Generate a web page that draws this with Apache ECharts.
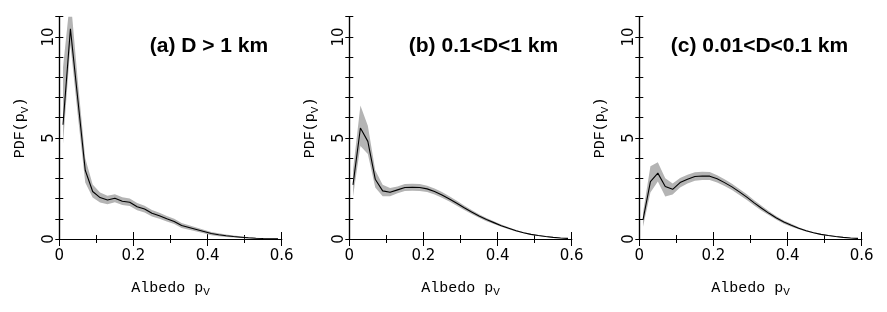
<!DOCTYPE html>
<html>
<head>
<meta charset="utf-8">
<script src="https://cdn.jsdelivr.net/npm/echarts@6/dist/echarts.min.js"></script>
<style>html,body{margin:0;padding:0;background:#fff}#c{width:887px;height:312px}</style>
</head>
<body>
<div id="c"></div>
<script>
const xs = [0.01,0.03,0.05,0.07,0.09,0.11,0.13,0.15,0.17,0.19,0.21,0.23,0.25,0.27,0.29,0.31,0.33,0.35,0.37,0.39,0.41,0.43,0.45,0.47,0.49,0.51,0.53,0.55,0.57,0.59];

const titles = ['(a) D > 1 km', '(b) 0.1<D<1 km', '(c) 0.01<D<0.1 km'];
const xTickLabels = ['0', '0.2', '0.4', '0.6'];
const yTickLabels = ['0', '5', '10'];

const meanA = [5.65,10.4,6.9,3.4,2.35,2.05,1.93,2.02,1.87,1.82,1.6,1.48,1.27,1.15,1.0,0.87,0.67,0.57,0.47,0.37,0.27,0.21,0.16,0.12,0.09,0.06,0.04,0.025,0.015,0.01];
const lowA  = [4.7,9.6,6.1,2.8,2.05,1.8,1.72,1.82,1.68,1.63,1.42,1.31,1.11,1.0,0.86,0.74,0.55,0.46,0.37,0.28,0.19,0.14,0.1,0.07,0.05,0.03,0.02,0.01,0.005,0.0];
const upA   = [8.5,12.0,7.8,4.0,2.7,2.3,2.14,2.22,2.06,2.01,1.78,1.65,1.43,1.3,1.14,1.0,0.79,0.68,0.57,0.46,0.35,0.28,0.22,0.17,0.13,0.09,0.06,0.04,0.025,0.02];

const meanB = [2.68,5.49,4.83,2.96,2.38,2.31,2.43,2.55,2.56,2.55,2.48,2.35,2.18,1.98,1.77,1.55,1.34,1.14,0.96,0.81,0.66,0.53,0.41,0.31,0.23,0.17,0.12,0.08,0.05,0.03];
const lowB  = [2.1,4.6,4.2,2.55,2.12,2.12,2.26,2.38,2.39,2.38,2.32,2.2,2.04,1.85,1.65,1.44,1.24,1.05,0.88,0.74,0.6,0.48,0.37,0.28,0.2,0.145,0.1,0.065,0.035,0.015];
const upB   = [3.4,6.6,5.6,3.4,2.68,2.52,2.6,2.72,2.73,2.72,2.64,2.5,2.32,2.11,1.89,1.66,1.44,1.23,1.04,0.88,0.72,0.58,0.45,0.34,0.26,0.195,0.14,0.095,0.065,0.045];

const meanC = [0.95,2.84,3.26,2.6,2.46,2.79,2.96,3.09,3.12,3.11,2.98,2.79,2.58,2.33,2.07,1.79,1.52,1.27,1.04,0.84,0.68,0.53,0.41,0.31,0.23,0.17,0.12,0.08,0.05,0.03];
const lowC  = [0.6,2.3,2.85,2.1,2.2,2.55,2.75,2.88,2.92,2.92,2.8,2.62,2.42,2.18,1.93,1.66,1.4,1.17,0.95,0.76,0.61,0.48,0.37,0.28,0.2,0.145,0.1,0.065,0.035,0.015];
const upC   = [1.3,3.6,3.8,3.0,2.75,3.02,3.18,3.3,3.33,3.31,3.16,2.96,2.74,2.48,2.21,1.92,1.64,1.37,1.13,0.92,0.75,0.58,0.45,0.34,0.26,0.195,0.14,0.095,0.065,0.045];

const panels = [
  {mean: meanA, low: lowA, up: upA},
  {mean: meanB, low: lowB, up: upB},
  {mean: meanC, low: lowC, up: upC}
];

const gridLefts = [59.3, 349.3, 639.3];
const boxW = 222.4, boxTop = 16.7, boxH = 222.3;

const chart = echarts.init(document.getElementById('c'), null, {renderer: 'canvas'});

const grid = [], xAxis = [], yAxis = [], series = [], title = [];
const axLine = {show: true, lineStyle: {color: '#000', width: 1.2}};
const tickMajor = {show: true, inside: true, length: 7, lineStyle: {color: '#000', width: 1}};
const tickMinorX = {show: true, splitNumber: 2, length: 4, lineStyle: {color: '#000', width: 1}};
const tickY = {show: true, inside: true, length: 4, lineStyle: {color: '#000', width: 1}};
const monoRich = {
  m: {fontFamily: 'Liberation Mono', fontSize: 15, color: '#000'},
  s: {fontFamily: 'Liberation Mono', fontSize: 11, color: '#000', padding: [9, 0, 0, 0]}
};

function bandRender(params, api) {
  if (params.dataIndex !== 0) return null;
  const p = panels[params.seriesIndex / 2 | 0];
  const pts = [];
  for (let k = 0; k < xs.length; k++) pts.push(api.coord([xs[k], p.up[k]]));
  for (let k = xs.length - 1; k >= 0; k--) pts.push(api.coord([xs[k], p.low[k]]));
  return {
    type: 'polygon',
    shape: {points: pts},
    style: {fill: '#b4b4b4', stroke: null}
  };
}

panels.forEach((p, i) => {
  grid.push({left: gridLefts[i], top: boxTop, width: boxW, height: boxH});
  title.push({
    text: titles[i],
    right: 887 - (gridLefts[i] + boxW) + 13.5,
    top: 35.5,
    padding: 0,
    textStyle: {fontFamily: 'Liberation Sans', fontWeight: 'bold', fontSize: 21, color: '#000'}
  });
  xAxis.push({
    type: 'value', gridIndex: i, position: 'bottom', min: 0, max: 0.6, interval: 0.2,
    axisLine: axLine, axisTick: tickMajor, minorTick: tickMinorX, splitLine: {show: false},
    axisLabel: {
      margin: 10, color: '#000', fontFamily: 'DejaVu Sans', fontSize: 15,
      formatter: v => {
        const s = xTickLabels.find(t => Math.abs(parseFloat(t) - v) < 1e-6);
        return s === undefined ? '' : s;
      }
    },
    name: '{m|Albedo p}{s|V}', nameLocation: 'middle', nameGap: 39,
    nameTextStyle: {fontFamily: 'Liberation Mono', fontSize: 15, rich: monoRich}
  });
  xAxis.push({
    type: 'value', gridIndex: i, position: 'top', min: 0, max: 0.6, interval: 0.2,
    axisLine: axLine, axisTick: tickMajor, minorTick: tickMinorX, splitLine: {show: false}, axisLabel: {show: false}
  });
  yAxis.push({
    type: 'value', gridIndex: i, position: 'left', min: 0, max: 11, interval: 1,
    axisLine: axLine, axisTick: tickY, splitLine: {show: false},
    axisLabel: {
      rotate: 90, margin: 3, color: '#000', fontFamily: 'DejaVu Sans', fontSize: 15,
      formatter: v => (yTickLabels.indexOf(String(v)) >= 0 ? String(v) : '')
    },
    name: '{m|PDF(p}{s|V}{m|)}', nameLocation: 'middle', nameGap: 29,
    nameTextStyle: {fontFamily: 'Liberation Mono', fontSize: 15, rich: monoRich}
  });
  yAxis.push({
    type: 'value', gridIndex: i, position: 'right', min: 0, max: 11, interval: 1,
    axisLine: axLine, axisTick: tickY, splitLine: {show: false}, axisLabel: {show: false}
  });
  const xi = i * 2, yi = i * 2;
  series.push({
    type: 'custom', xAxisIndex: xi, yAxisIndex: yi, clip: true, silent: true, z: 1,
    renderItem: bandRender,
    data: xs.map((x, k) => [x, p.low[k], p.up[k]]),
    encode: {x: 0, y: [1, 2]}
  });
  series.push({
    type: 'line', xAxisIndex: xi, yAxisIndex: yi, symbol: 'none',
    data: xs.map((x, k) => [x, p.mean[k]]),
    lineStyle: {color: '#000', width: 1.1}, z: 3
  });
});

chart.setOption({
  animation: false,
  backgroundColor: '#fff',
  title, grid, xAxis, yAxis, series
});
</script>
</body>
</html>
